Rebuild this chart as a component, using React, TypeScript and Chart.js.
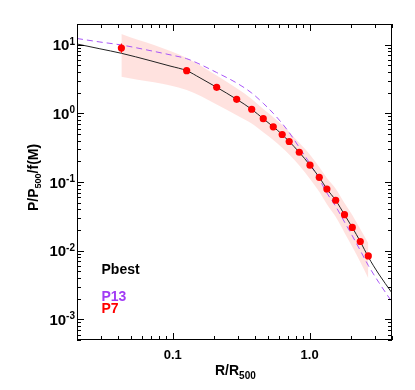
import React, { useEffect, useRef } from 'react';
import { Chart, registerables } from 'chart.js';

Chart.register(...registerables);

// ---- data ----
const pointR = [0.0422, 0.1265, 0.2096, 0.2935, 0.3777, 0.4589, 0.543, 0.6307, 0.7097, 0.841, 1.007, 1.177, 1.338, 1.551, 1.799, 2.051, 2.346, 2.685];
const pointP = [8.93, 4.18, 2.395, 1.602, 1.146, 0.836, 0.637, 0.492, 0.389, 0.271, 0.176, 0.117, 0.0791, 0.0542, 0.0334, 0.0218, 0.0136, 0.00838];
const pointErrLo = [7.6, 4.0, 2.3, 1.55, 1.11, 0.81, 0.62, 0.48, 0.38, 0.265, 0.172, 0.114, 0.077, 0.053, 0.0326, 0.0213, 0.0133, 0.0082];
const pointErrHi = [10.4, 4.36, 2.49, 1.65, 1.18, 0.86, 0.655, 0.505, 0.4, 0.277, 0.18, 0.12, 0.081, 0.0555, 0.0342, 0.0223, 0.0139, 0.0086];

const bandR = [0.0422, 0.1265, 0.2096, 0.2935, 0.3777, 0.4589, 0.543, 0.6307, 0.7097, 0.841, 1.007, 1.177, 1.338, 1.551, 1.799, 2.051, 2.346, 2.685];
const bandUpper = [14.3, 6.4, 3.55, 2.31, 1.62, 1.16, 0.88, 0.675, 0.537, 0.372, 0.249, 0.165, 0.1143, 0.0799, 0.0494, 0.033, 0.0206, 0.0128];
const bandLower = [3.42, 2.19, 1.35, 0.94, 0.71, 0.53, 0.41, 0.316, 0.252, 0.174, 0.111, 0.0722, 0.0476, 0.0311, 0.0183, 0.0114, 0.00682, 0.00396];

const curveR = [0.02, 0.0294, 0.0422, 0.0683, 0.0956, 0.1265, 0.1583, 0.2096, 0.2935, 0.3777, 0.4589, 0.543, 0.6307, 0.7097, 0.841, 1.007, 1.177, 1.338, 1.551, 1.799, 2.051, 2.346, 2.685, 3.2, 4.0];
const pbestP = [10.23, 8.71, 7.49, 5.86, 4.89, 4.18, 3.29, 2.394, 1.601, 1.145, 0.8354, 0.6368, 0.4917, 0.3889, 0.2708, 0.1757, 0.1171, 0.0791, 0.05415, 0.03342, 0.02175, 0.0136, 0.00809, 0.004574, 0.002419];
const p13P = [12.3, 10.94, 9.89, 8.2, 7.12, 6.25, 5.18, 3.93, 2.766, 1.978, 1.4, 1.001, 0.7112, 0.526, 0.318, 0.1848, 0.1106, 0.0692, 0.04429, 0.02616, 0.01647, 0.01006, 0.00609, 0.003463, 0.001789];

const xTickValues = [0.1, 1];
const xTickLabels = ['0.1', '1.0'];
const yTickValues = [1e-3, 1e-2, 1e-1, 1, 10];
const yTickExps = ['-3', '-2', '-1', '0', '1'];

const legendLabels = ['Pbest', 'P13', 'P7'];
const legendColors = ['#000000', '#a23cf5', '#ff0000'];

const X_MIN = 0.02;
const X_MAX = 4;
const Y_MIN = 5e-4;
const Y_MAX = 20;

const FONT = '"Liberation Sans", Arial, Helvetica, sans-serif';

function logTicks(min: number, max: number) {
  const major: number[] = [];
  const minor: number[] = [];
  for (let e = Math.floor(Math.log10(min)) - 1; e <= Math.ceil(Math.log10(max)); e++) {
    for (let m = 1; m <= 9; m++) {
      const v = m * Math.pow(10, e);
      if (v < min * 0.9999 || v > max * 1.0001) continue;
      if (m === 1) major.push(v);
      else minor.push(v);
    }
  }
  return { major, minor };
}

const overlayPlugin = {
  id: 'overlay',
  afterDatasetsDraw(chart: any) {
    const { ctx, scales } = chart;
    const xs = scales.x;
    const ys = scales.y;
    ctx.save();
    ctx.strokeStyle = '#ff0000';
    ctx.lineWidth = 1;
    for (let i = 0; i < pointR.length; i++) {
      const px = xs.getPixelForValue(pointR[i]);
      ctx.beginPath();
      ctx.moveTo(px, ys.getPixelForValue(pointErrLo[i]));
      ctx.lineTo(px, ys.getPixelForValue(pointErrHi[i]));
      ctx.stroke();
    }
    ctx.restore();
  },
  afterDraw(chart: any) {
    const { ctx, chartArea: a, scales } = chart;
    const xs = scales.x;
    const ys = scales.y;
    ctx.save();
    ctx.strokeStyle = '#000';
    ctx.lineWidth = 1;
    ctx.strokeRect(a.left + 0.5, a.top + 0.5, a.right - a.left - 1, a.bottom - a.top - 1);

    const xt = logTicks(X_MIN, X_MAX);
    const yt = logTicks(Y_MIN, Y_MAX);
    const drawX = (v: number, len: number) => {
      const p = Math.round(xs.getPixelForValue(v)) + 0.5;
      ctx.beginPath();
      ctx.moveTo(p, a.bottom);
      ctx.lineTo(p, a.bottom - len);
      ctx.moveTo(p, a.top);
      ctx.lineTo(p, a.top + len);
      ctx.stroke();
    };
    const drawY = (v: number, len: number) => {
      const p = Math.round(ys.getPixelForValue(v)) + 0.5;
      ctx.beginPath();
      ctx.moveTo(a.left, p);
      ctx.lineTo(a.left + len, p);
      ctx.moveTo(a.right, p);
      ctx.lineTo(a.right - len, p);
      ctx.stroke();
    };
    xt.minor.forEach((v) => drawX(v, 4));
    xt.major.forEach((v) => drawX(v, 7));
    yt.minor.forEach((v) => drawY(v, 4));
    yt.major.forEach((v) => drawY(v, 7));

    ctx.fillStyle = '#000';
    ctx.font = `bold 13px ${FONT}`;
    ctx.textAlign = 'center';
    ctx.textBaseline = 'alphabetic';
    xTickValues.forEach((v, i) => {
      ctx.fillText(xTickLabels[i], xs.getPixelForValue(v), 359);
    });

    yTickValues.forEach((v, i) => {
      const py = ys.getPixelForValue(v);
      const right = a.left - 2;
      ctx.font = `bold 10px ${FONT}`;
      const ew = ctx.measureText(yTickExps[i]).width;
      ctx.textAlign = 'left';
      ctx.textBaseline = 'alphabetic';
      ctx.fillText(yTickExps[i], right - ew, py);
      ctx.font = `bold 15px ${FONT}`;
      ctx.textAlign = 'right';
      ctx.textBaseline = 'middle';
      ctx.fillText('10', right - ew, py + 1.5);
    });

    ctx.textAlign = 'left';
    ctx.textBaseline = 'alphabetic';
    ctx.font = `bold 14px ${FONT}`;
    const xt1 = 'R/R';
    ctx.fillText(xt1, 215, 375);
    const w1 = ctx.measureText(xt1).width;
    ctx.font = `bold 10px ${FONT}`;
    ctx.fillText('500', 215 + w1, 378.5);

    ctx.save();
    ctx.translate(37.5, 211);
    ctx.rotate(-Math.PI / 2);
    ctx.font = `bold 14px ${FONT}`;
    let cx = 0;
    ctx.fillText('P/P', cx, 0);
    cx += ctx.measureText('P/P').width;
    ctx.font = `bold 9px ${FONT}`;
    ctx.fillText('500', cx, 3);
    cx += ctx.measureText('500').width;
    ctx.font = `bold 14px ${FONT}`;
    ctx.fillText('/f(M)', cx, 0);
    ctx.restore();

    ctx.font = `bold 14px ${FONT}`;
    ctx.textAlign = 'left';
    const legY = [273.5, 301, 312.5];
    legendLabels.forEach((t, i) => {
      ctx.fillStyle = legendColors[i];
      ctx.fillText(t, 101.5, legY[i]);
    });
    ctx.restore();
  },
};

export default function App() {
  const ref = useRef<HTMLCanvasElement | null>(null);
  useEffect(() => {
    if (!ref.current) return;
    const xy = (xsArr: number[], ysArr: number[]) => xsArr.map((x, i) => ({ x, y: ysArr[i] }));
    const chart = new Chart(ref.current, {
      type: 'line',
      data: {
        datasets: [
          {
            label: 'P7',
            data: xy(pointR, pointP),
            showLine: false,
            pointRadius: 3.6,
            pointBackgroundColor: '#ff0000',
            pointBorderColor: '#ff0000',
            pointBorderWidth: 0,
          },
          {
            label: 'Pbest',
            data: xy(curveR, pbestP),
            borderColor: '#222222',
            borderWidth: 1,
            pointRadius: 0,
            cubicInterpolationMode: 'monotone',
            fill: false,
          },
          {
            label: 'P13',
            data: xy(curveR, p13P),
            borderColor: '#a855f7',
            borderWidth: 1,
            borderDash: [6, 4],
            pointRadius: 0,
            cubicInterpolationMode: 'monotone',
            fill: false,
          },
          {
            label: 'band upper',
            data: xy(bandR, bandUpper),
            borderWidth: 0,
            borderColor: 'rgba(0,0,0,0)',
            pointRadius: 0,
            cubicInterpolationMode: 'monotone',
            backgroundColor: 'rgba(255,60,40,0.15)',
            fill: '+1',
          },
          {
            label: 'band lower',
            data: xy(bandR, bandLower),
            borderWidth: 0,
            borderColor: 'rgba(0,0,0,0)',
            pointRadius: 0,
            cubicInterpolationMode: 'monotone',
            fill: false,
          },
        ],
      },
      options: {
        animation: false,
        responsive: false,
        maintainAspectRatio: false,
        layout: { padding: { left: 77, top: 24, right: 23, bottom: 50 } },
        plugins: { legend: { display: false }, tooltip: { enabled: false }, title: { display: false } },
        scales: {
          x: { type: 'logarithmic', min: X_MIN, max: X_MAX, display: false },
          y: { type: 'logarithmic', min: Y_MIN, max: Y_MAX, display: false },
        },
      },
      plugins: [overlayPlugin],
    } as any);
    return () => chart.destroy();
  }, []);
  return (
    <div style={{ position: 'fixed', left: 0, top: 0, width: 415, height: 390, background: '#fff' }}>
      <canvas ref={ref} width={415} height={390} style={{ display: 'block', width: 415, height: 390 }} />
    </div>
  );
}
